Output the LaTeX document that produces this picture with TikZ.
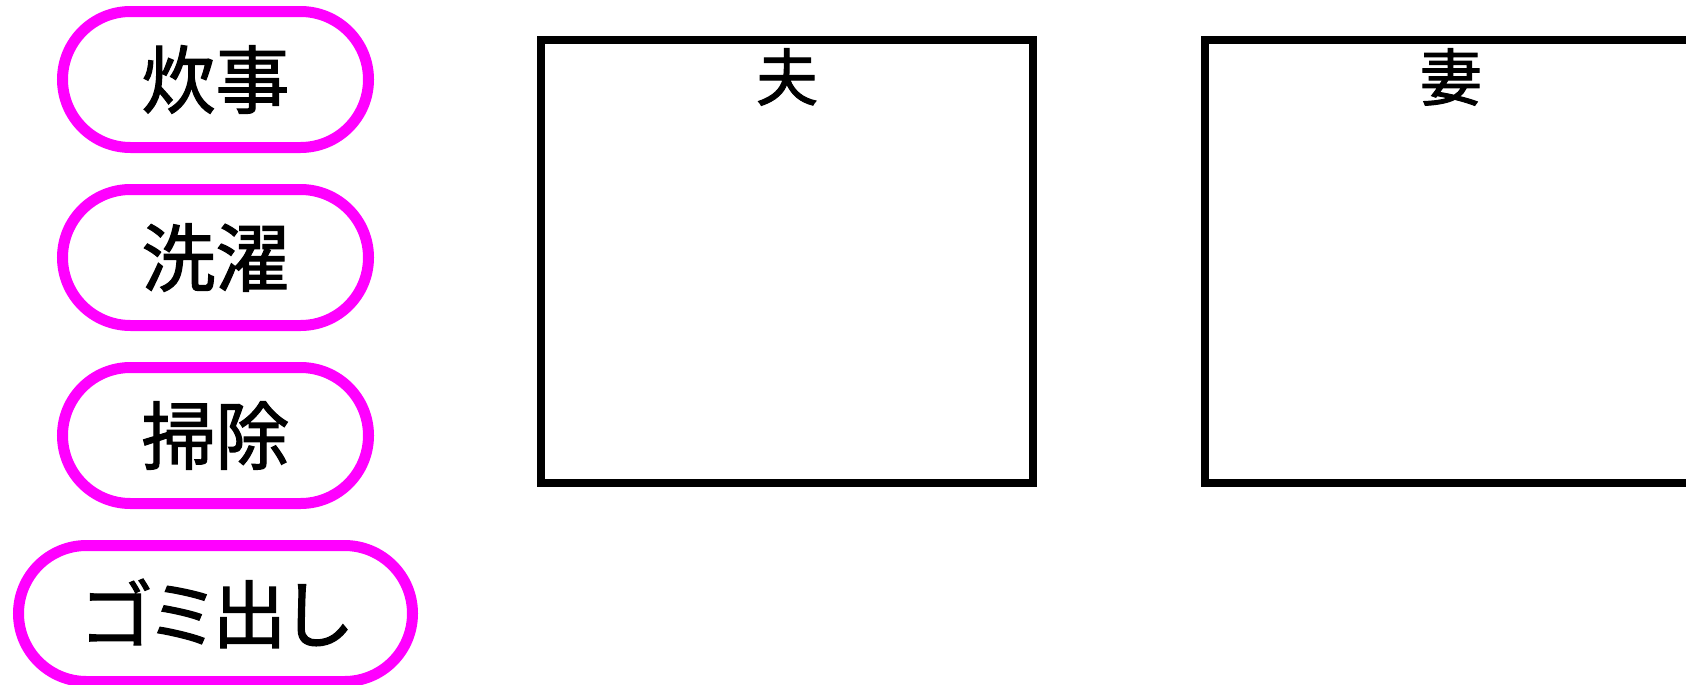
\documentclass[tikz,border=0pt]{standalone}
\usepackage{fontspec}
\setmainfont{Noto Sans CJK JP}[FakeBold=1.6, RawFeature=+palt]
\usepackage{xcolor}
\usepackage{tikz}
\usetikzlibrary{positioning}

\definecolor{taskpink}{RGB}{255,0,255}

\begin{document}
\begin{tikzpicture}[x=0.5pt, y=-0.5pt, node distance=15.5pt]
    % Stili
    \tikzstyle{task}=[rectangle, rounded corners=34pt, minimum width=153pt, minimum height=68pt, draw=taskpink, line width=5.5pt, font=\fontsize{37}{40}\selectfont, text centered]
    \tikzstyle{person}=[rectangle, draw=black, line width=4pt, minimum width=246pt, minimum height=221.5pt]
    \tikzstyle{who}=[font=\fontsize{31}{34}\selectfont, inner sep=0pt]

    \useasboundingbox (0,0) rectangle (1686,685);

    % Compiti
    \node (cooking) [task] at (215.5,79.5) {炊事};
    \node (laundry) [task, below=of cooking] {洗濯};
    \node (cleaning) [task, below=of laundry] {掃除};
    \node (garbage) [task, below=of cleaning, minimum width=197pt] {ゴミ出し};

    % Persone
    \node (husband) [person] at (787,261.5) {};
    \node (wife) [person, right=82pt of husband] {};
    \node (husbandname) [who] at ([yshift=-20.5pt]husband.north) {夫};
    \node (wifename) [who] at ([yshift=-20.5pt]wife.north) {妻};
\end{tikzpicture}
\end{document}
